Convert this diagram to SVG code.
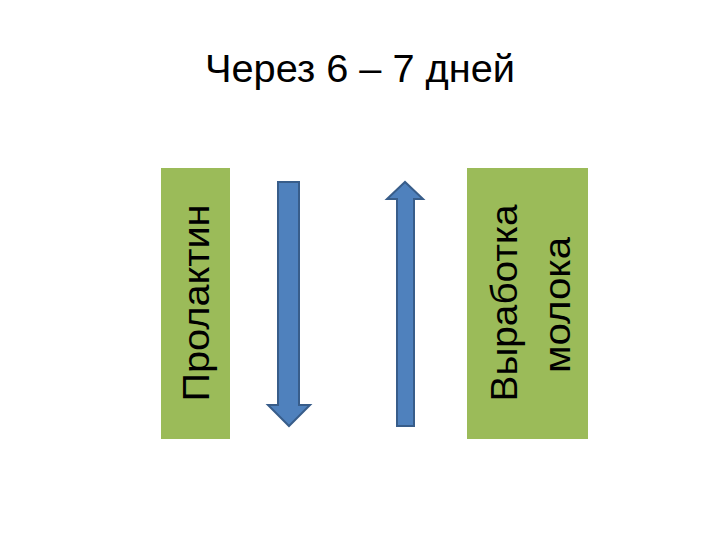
<svg xmlns="http://www.w3.org/2000/svg" width="720" height="540" viewBox="0 0 720 540">
<style>
.box{fill:#9bbb59}
.arr{fill:#4f81bd;stroke:#385d8a;stroke-width:2}
.t{font-family:"Liberation Sans","DejaVu Sans",sans-serif;fill:#000;text-anchor:middle}
</style>
<rect width="720" height="540" fill="#fff"/>
<g id="title"><text class="t" x="360" y="82" font-size="38" textLength="310" lengthAdjust="spacingAndGlyphs">Через 6 – 7 дней</text></g>
<g id="prolactin">
<rect class="box" x="161" y="168" width="69" height="271"/>
<text class="t" transform="translate(209,303) rotate(-90)" font-size="36" textLength="197" lengthAdjust="spacingAndGlyphs">Пролактин</text>
</g>
<g id="milk">
<rect class="box" x="467" y="168" width="121" height="271"/>
<text class="t" transform="translate(517,303) rotate(-90)" font-size="36" textLength="197" lengthAdjust="spacingAndGlyphs">Выработка</text>
<text class="t" transform="translate(570,305) rotate(-90)" font-size="36" textLength="136" lengthAdjust="spacingAndGlyphs">молока</text>
</g>
<g id="connectors">
<polygon class="arr" points="278,182 299,182 299,405 310,405 289,426 268,405 278,405"/>
<polygon class="arr" points="397,426 414,426 414,199 423,199 405,182 387,199 397,199"/>
</g>
</svg>
